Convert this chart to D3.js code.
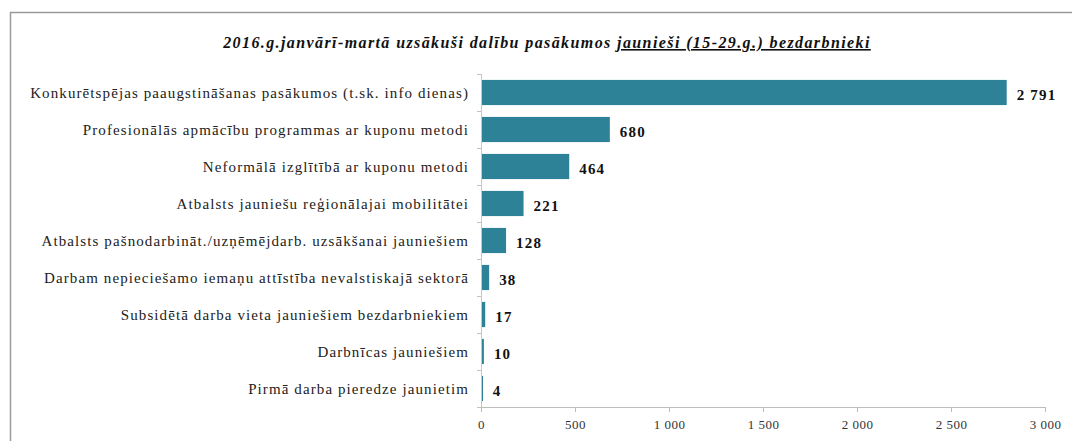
<!DOCTYPE html>
<html>
<head>
<meta charset="utf-8">
<script src="https://cdn.jsdelivr.net/npm/d3@7"></script>
<style>
  body { margin: 0; background: #fff; }
  svg { display: block; }
</style>
</head>
<body>
<div id="chart"></div>
<script>
const categories = [
    "Konkurētspējas paaugstināšanas pasākumos (t.sk. info dienas)",
    "Profesionālās apmācību programmas ar kuponu metodi",
    "Neformālā izglītībā ar kuponu metodi",
    "Atbalsts jauniešu reģionālajai mobilitātei",
    "Atbalsts pašnodarbināt./uzņēmējdarb. uzsākšanai jauniešiem",
    "Darbam nepieciešamo iemaņu attīstība nevalstiskajā sektorā",
    "Subsidētā darba vieta jauniešiem bezdarbniekiem",
    "Darbnīcas jauniešiem",
    "Pirmā darba pieredze jaunietim"
];
const values = [2791, 680, 464, 221, 128, 38, 17, 10, 4];
const xTicks = [0, 500, 1000, 1500, 2000, 2500, 3000];

const titlePlain = "2016.g.janvārī-martā uzsākuši dalību pasākumos ";
const titleUnderlined = "jaunieši (15-29.g.) bezdarbnieki";

const width = 1072;
const height = 441;
const margin = {top: 74, right: 27, bottom: 34, left: 481};
const serif = "'Liberation Serif', 'Times New Roman', serif";

const fmt = v => d3.format(",")(v).replace(/,/g, " ");

const svg = d3.select("#chart").append("svg")
    .attr("width", width)
    .attr("height", height);

// outer frame of the original chart
svg.append("rect")
    .attr("x", 10.5)
    .attr("y", 12.5)
    .attr("width", width + 20)
    .attr("height", height + 20)
    .attr("fill", "none")
    .attr("stroke", "#9a9a9a")
    .attr("stroke-width", 1.5);

const title = svg.append("text")
    .attr("x", 547)
    .attr("y", 48)
    .attr("text-anchor", "middle")
    .style("font-family", serif)
    .style("font-size", "16px")
    .style("letter-spacing", "1.4px")
    .style("font-style", "italic")
    .style("font-weight", "bold")
    .attr("fill", "#111");
title.append("tspan").text(titlePlain);
title.append("tspan").attr("text-decoration", "underline").text(titleUnderlined);

const x = d3.scaleLinear()
    .domain([0, 3000])
    .range([margin.left, width - margin.right]);

const y = d3.scaleBand()
    .domain(categories)
    .range([margin.top, height - margin.bottom])
    .paddingInner(0.32)
    .paddingOuter(0.16);

const plotBottom = height - margin.bottom;

// y axis line with tick marks between categories
svg.append("line")
    .attr("x1", x(0) + 0.5).attr("x2", x(0) + 0.5)
    .attr("y1", margin.top).attr("y2", plotBottom)
    .attr("stroke", "#c8c8c8");

const step = y.step();
d3.range(categories.length + 1).forEach(i => {
    const yy = Math.round(margin.top + i * step) + 0.5;
    svg.append("line")
        .attr("x1", x(0) - 4).attr("x2", x(0))
        .attr("y1", yy).attr("y2", yy)
        .attr("stroke", "#d6b8c0");
});

svg.append("g")
    .selectAll("rect")
    .data(values)
    .enter()
    .append("rect")
    .attr("x", x(0) + 1)
    .attr("y", (d, i) => y(categories[i]))
    .attr("width", d => Math.max(1, x(d) - x(0)))
    .attr("height", y.bandwidth())
    .attr("fill", "#2e8297");

// category labels
svg.append("g")
    .selectAll("text")
    .data(categories)
    .enter()
    .append("text")
    .attr("x", x(0) - 12)
    .attr("y", d => y(d) + y.bandwidth() / 2)
    .attr("dy", "0.35em")
    .attr("text-anchor", "end")
    .style("font-family", serif)
    .style("font-size", "15px")
    .style("letter-spacing", "1.1px")
    .attr("fill", "#222")
    .text(d => d);

// value labels
svg.append("g")
    .selectAll("text")
    .data(values)
    .enter()
    .append("text")
    .attr("x", d => x(d) + 11)
    .attr("y", (d, i) => y(categories[i]) + y.bandwidth() / 2 + 2)
    .attr("dy", "0.35em")
    .style("font-family", serif)
    .style("font-size", "15px")
    .style("letter-spacing", "1.2px")
    .style("font-weight", "bold")
    .attr("fill", "#111")
    .text(d => fmt(d));

// x axis
const xAxis = svg.append("g")
    .attr("transform", `translate(0,${plotBottom})`)
    .call(d3.axisBottom(x).tickValues(xTicks).tickSize(5).tickSizeOuter(0).tickFormat(fmt));
xAxis.select(".domain").attr("stroke", "#bdbdbd");
xAxis.selectAll(".tick line").attr("stroke", "#bdbdbd");
xAxis.selectAll(".tick text")
    .attr("dy", "1.1em")
    .style("font-family", serif)
    .style("font-size", "13px")
    .style("letter-spacing", "0.5px")
    .attr("fill", "#333");
</script>
</body>
</html>
